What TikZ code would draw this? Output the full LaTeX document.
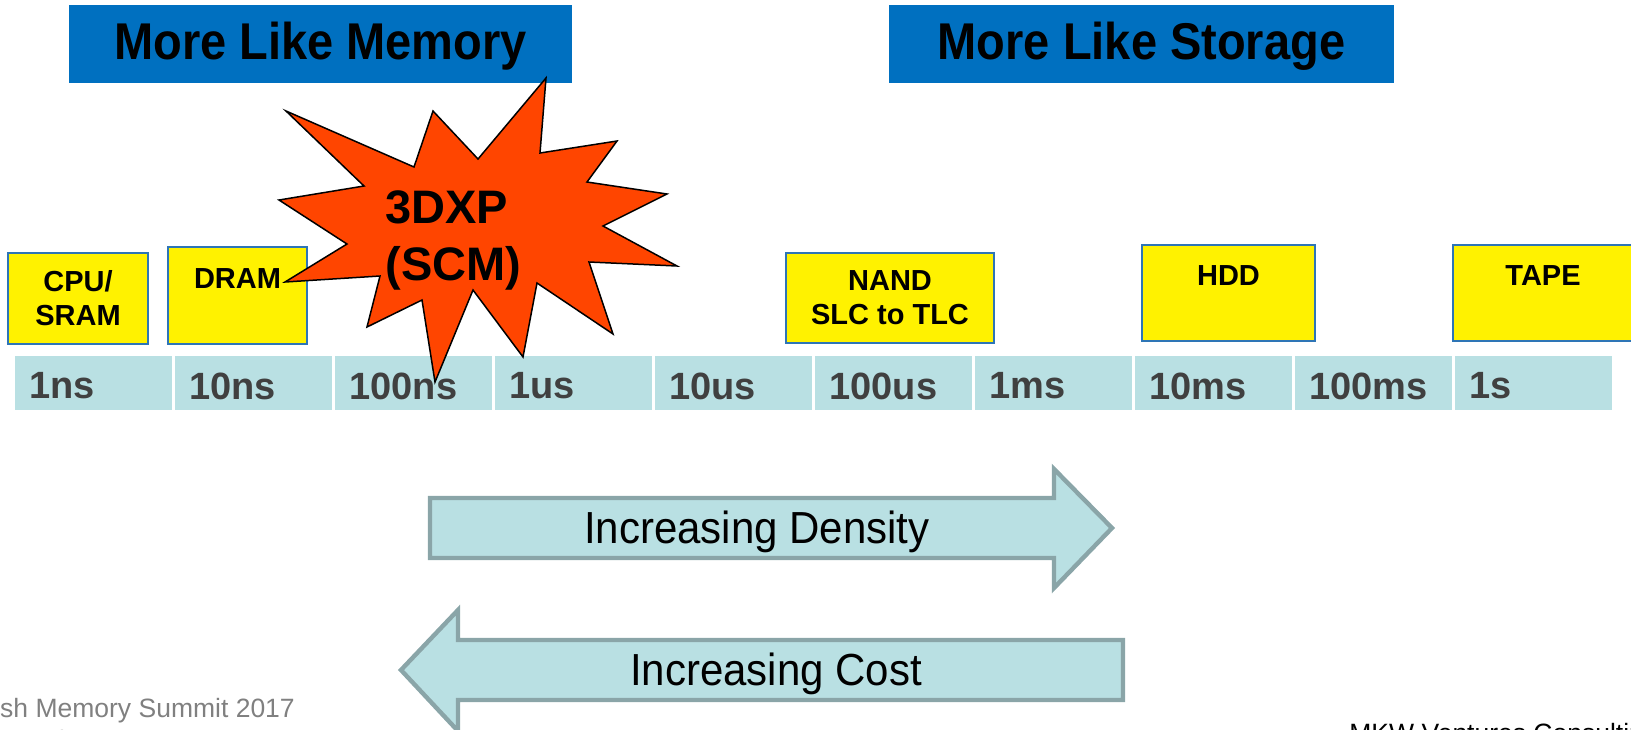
\documentclass[tikz,border=0pt]{standalone}
\usepackage{fontspec}
\setmainfont{Liberation Sans}
\definecolor{hblue}{HTML}{0070C0}
\definecolor{ybord}{HTML}{2E75B6}
\definecolor{tl}{HTML}{B9E0E3}
\definecolor{arrbord}{HTML}{8AA5A8}
\definecolor{labgray}{HTML}{404040}
\definecolor{starred}{HTML}{FF4500}
\definecolor{footgray}{HTML}{808080}
\newcommand{\dropby}[2]{\raisebox{-#1}[\height][\depth]{#2}}
\begin{document}
\begin{tikzpicture}[x=0.5pt,y=-0.5pt,
  headbox/.style={fill=hblue, draw=none, inner sep=0pt, minimum height=39pt,
    font=\bfseries\fontsize{23.5}{28}\selectfont},
  ybox/.style={fill=yellow, draw=ybord, line width=0.75pt, inner sep=0pt, align=center,
    font=\bfseries\fontsize{14.5}{17}\selectfont},
  tcell/.style={fill=tl, draw=none, anchor=west, minimum height=27pt, inner ysep=0pt,
    inner xsep=7pt, text width=64.5pt, align=left, text=labgray,
    font=\bfseries\fontsize{19}{22}\selectfont},
  starshape/.style={fill=starred, draw=black, line width=0.75pt, line join=miter},
  startext/.style={inner sep=0pt, align=left, font=\bfseries\fontsize{23.5}{28.5}\selectfont},
  blockarrow/.style={fill=tl, draw=arrbord, line width=2.2pt, line join=miter},
  arrtext/.style={inner sep=0pt, font=\fontsize{21}{25}\selectfont},
  foot/.style={inner sep=0pt, anchor=base west, font=\fontsize{13.25}{15}\selectfont}
]
\useasboundingbox (0,0) rectangle (1631,729);
\clip (0,0) rectangle (1631,729);

% headings
\node[headbox, minimum width=251.5pt] (mem) at (320.5,44)
  {\dropby{1.3pt}{\scalebox{1}[1.1]{More Like Memory}}};
\node[headbox, minimum width=252.5pt] (sto) at (1141.5,44)
  {\dropby{1.3pt}{\scalebox{1}[1.1]{More Like Storage}}};

% yellow boxes
\node[ybox, minimum width=70pt, minimum height=45.5pt] (cpu) at (78,298.5) {CPU/\\SRAM};
\node[ybox, minimum width=69.5pt, minimum height=48.5pt] (dram) at (237.5,295.5) {DRAM\\\mbox{}};
\node[ybox, minimum width=104pt, minimum height=45pt] (nand) at (890,298) {NAND\\SLC to TLC};
\node[ybox, minimum width=86.5pt, minimum height=48pt] (hdd) at (1228.5,293) {HDD\\\mbox{}};
\node[ybox, minimum width=90pt, minimum height=48pt] (tape) at (1543,293) {TAPE\\\mbox{}};

% timeline
\foreach \lab [count=\i from 0] in {1ns,10ns,100ns,1us,10us,100us,1ms,10ms,100ms,1s}
  \node[tcell] (c\i) at ({15+160*\i},383) {\dropby{1.5pt}{\lab}};

% star
\draw[starshape] (286,111) -- (414,167) -- (433,111) -- (478,159) -- (546,78) -- (540,153)
  -- (617,141) -- (587,182) -- (667,194) -- (603,226) -- (677,266) -- (589,262)
  -- (613,334) -- (537,283) -- (523,357) -- (473,290) -- (435,382) -- (422,300)
  -- (367,327) -- (380,276) -- (285,282) -- (347,244) -- (279,200) -- (364,186) -- cycle;
\node[startext, anchor=west] (scm) at (385,240) {3DXP\\(SCM)};

% block arrows
\draw[blockarrow] (430,498) -- (1054,498) -- (1054,469) -- (1112,528) -- (1054,588)
  -- (1054,558) -- (430,558) -- cycle;
\node[arrtext] (dens) at (757,532) {\scalebox{1}[1.07]{Increasing Density}};
\draw[blockarrow] (1123,640) -- (458,640) -- (458,610) -- (401,670) -- (458,731)
  -- (458,700) -- (1123,700) -- cycle;
\node[arrtext] (cost) at (776,674) {\scalebox{1}[1.07]{Increasing Cost}};

% footers
\node[foot, text=footgray] (fms1) at (-37,717) {Flash Memory Summit 2017};
\node[foot, text=footgray] (fms2) at (-37,749) {Santa Clara, CA};
\node[foot, text=black] (mkw) at (1349,742) {MKW Ventures Consulting};
\end{tikzpicture}
\end{document}
